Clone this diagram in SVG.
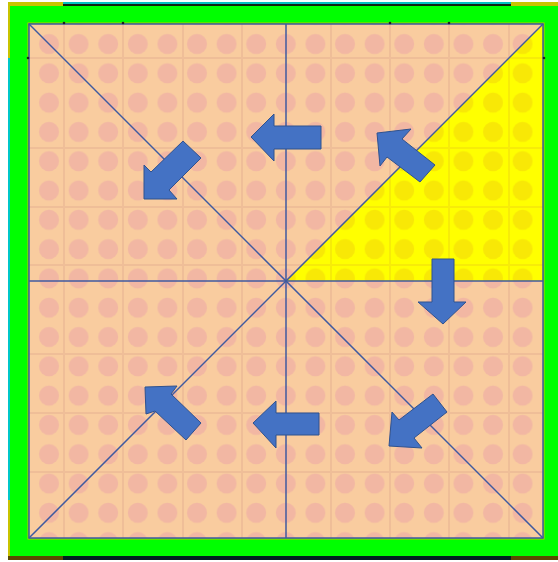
<svg xmlns="http://www.w3.org/2000/svg" width="558" height="562" viewBox="0 0 558 562">
<style>
.arrow{fill:#4472C4;stroke:#2F528F;stroke-width:1}
.ln{stroke:#3F5AA0;stroke-width:1.5;fill:none}
.gp{stroke:#EFBE98;stroke-width:2}
.gy{stroke:#F7EC08;stroke-width:2}
.tick{fill:#202020}
</style>
<defs>
<pattern id="dotsP" patternUnits="userSpaceOnUse" x="34.2" y="29.35" width="29.6" height="29.3">
<rect width="29.6" height="29.3" fill="#F9CC9F"/>
<circle cx="14.8" cy="14.65" r="10" fill="#F2B7A3"/>
</pattern>
<pattern id="dotsY" patternUnits="userSpaceOnUse" x="34.2" y="29.35" width="29.6" height="29.3">
<rect width="29.6" height="29.3" fill="#FFFF00"/>
<circle cx="14.8" cy="14.65" r="10" fill="#F8E806"/>
</pattern>
<clipPath id="sq"><rect x="29" y="24" width="514" height="514"/></clipPath>
<clipPath id="tri"><polygon points="286,281 543,24 543,281"/></clipPath>
</defs>
<rect width="558" height="562" fill="#FFFFFF"/>
<g id="frame">
<rect x="8" y="2" width="550" height="558" fill="#00FF00"/>
<rect x="8" y="2" width="55" height="4" fill="#C8C400"/>
<rect x="63" y="2" width="448" height="2" fill="#00C0C0"/>
<rect x="63" y="4" width="448" height="2" fill="#102010"/>
<rect x="511" y="2" width="47" height="4" fill="#C8C400"/>
<rect x="8" y="2" width="2" height="56" fill="#C8C400"/>
<rect x="8" y="58" width="2" height="442" fill="#00C8C8"/>
<rect x="8" y="500" width="2" height="60" fill="#C8C400"/>
<rect x="8" y="556" width="55" height="4" fill="#5A4A00"/>
<rect x="63" y="556" width="448" height="4" fill="#002020"/>
<rect x="511" y="556" width="47" height="4" fill="#5A4A00"/>
</g>
<g id="tiles">
<rect x="28" y="23" width="516" height="516" fill="none" stroke="#C8C400" stroke-width="1"/>
<rect x="29" y="24" width="514" height="514" fill="url(#dotsP)"/>
<g clip-path="url(#sq)">
<path class="gp" d="M64 24V538M123 24V538M183 24V538M242 24V538M331 24V538M390 24V538M449 24V538M509 24V538M29 58H543M29 148H543M29 207H543M29 265H543M29 354H543M29 413H543M29 472H543"/>
</g>
</g>
<g id="yellow-sector">
<polygon points="286,281 543,24 543,281" fill="url(#dotsY)"/>
<g clip-path="url(#tri)">
<path class="gy" d="M331 24V538M390 24V538M449 24V538M509 24V538M29 58H543M29 148H543M29 207H543M29 265H543"/>
</g>
</g>
<g id="connectors">
<rect class="ln" x="29" y="24" width="514" height="514"/>
<line class="ln" x1="29" y1="24" x2="543" y2="538"/>
<line class="ln" x1="543" y1="24" x2="29" y2="538"/>
<line class="ln" x1="286" y1="24" x2="286" y2="538"/>
<line class="ln" x1="29" y1="281" x2="543" y2="281"/>
</g>
<g id="ticks">
<circle class="tick" cx="64" cy="23" r="1.3"/>
<circle class="tick" cx="123" cy="23" r="1.3"/>
<circle class="tick" cx="390" cy="23" r="1.3"/>
<circle class="tick" cx="449" cy="23" r="1.3"/>
<circle class="tick" cx="28" cy="58" r="1.3"/>
<circle class="tick" cx="544" cy="58" r="1.3"/>
</g>
<g id="arrow-top">
<polygon class="arrow" points="251,137 274,114 274,126 321,126 321,149 274,149 274,161"/>
</g>
<g id="arrow-top-left">
<polygon class="arrow" points="144,199 144,165 151,172 183,141 201,158 169,190 177,199"/>
</g>
<g id="arrow-top-right">
<polygon class="arrow" points="377,133 411,129 402,139 435,165 420,182 387,157 380,166"/>
</g>
<g id="arrow-right">
<polygon class="arrow" points="432,259 454,259 454,302 466,302 443,324 418,302 432,302"/>
</g>
<g id="arrow-bottom-right">
<polygon class="arrow" points="389,446 392,412 399,420 433,394 447,412 414,438 422,448"/>
</g>
<g id="arrow-bottom">
<polygon class="arrow" points="253,423 276,401 276,413 319,413 319,435 276,435 276,448"/>
</g>
<g id="arrow-bottom-left">
<polygon class="arrow" points="145,387 177,386 171,394 201,423 186,440 155,411 146,414"/>
</g>
</svg>
